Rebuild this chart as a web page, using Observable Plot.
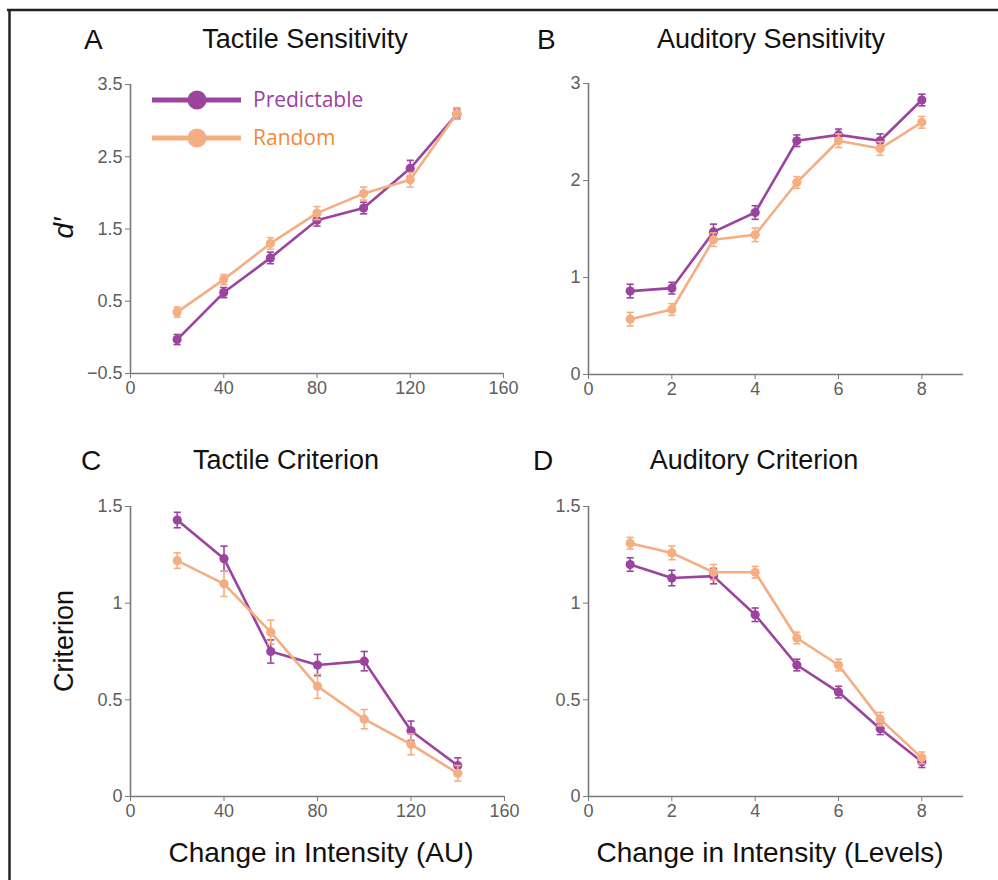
<!DOCTYPE html>
<html><head><meta charset="utf-8">
<script src="https://cdn.jsdelivr.net/npm/d3@7"></script>
<script src="https://cdn.jsdelivr.net/npm/@observablehq/plot@0.6"></script>
<style>
body{margin:0;background:#fff;}
#fig{position:relative;width:998px;height:880px;overflow:hidden;background:#fff;}
#fig > svg{position:absolute;}
</style></head>
<body><div id="fig"></div>
<script>
// ---------- data ----------
const tactileX = [20, 40, 60, 80, 100, 120, 140];
const auditoryX = [1, 2, 3, 4, 5, 6, 7, 8];

const tactileSensPred = [-0.03, 0.62, 1.10, 1.62, 1.79, 2.34, 3.09];
const tactileSensPredErr = [0.07, 0.07, 0.08, 0.08, 0.08, 0.11, 0.07];
const tactileSensRand = [0.35, 0.80, 1.30, 1.72, 1.99, 2.18, 3.10];
const tactileSensRandErr = [0.07, 0.07, 0.08, 0.09, 0.09, 0.10, 0.08];

const auditorySensPred = [0.86, 0.89, 1.47, 1.67, 2.41, 2.47, 2.41, 2.83];
const auditorySensPredErr = [0.07, 0.06, 0.08, 0.07, 0.06, 0.06, 0.07, 0.06];
const auditorySensRand = [0.57, 0.67, 1.39, 1.44, 1.98, 2.41, 2.33, 2.60];
const auditorySensRandErr = [0.07, 0.06, 0.07, 0.07, 0.06, 0.07, 0.07, 0.06];

const tactileCritPred = [1.43, 1.23, 0.75, 0.68, 0.70, 0.34, 0.16];
const tactileCritPredErr = [0.04, 0.065, 0.06, 0.055, 0.05, 0.05, 0.04];
const tactileCritRand = [1.22, 1.10, 0.85, 0.57, 0.40, 0.27, 0.12];
const tactileCritRandErr = [0.04, 0.065, 0.062, 0.062, 0.05, 0.054, 0.04];

const auditoryCritPred = [1.20, 1.13, 1.14, 0.94, 0.68, 0.54, 0.35, 0.18];
const auditoryCritPredErr = [0.035, 0.04, 0.04, 0.035, 0.03, 0.03, 0.03, 0.03];
const auditoryCritRand = [1.31, 1.26, 1.16, 1.16, 0.82, 0.68, 0.40, 0.20];
const auditoryCritRandErr = [0.03, 0.035, 0.04, 0.03, 0.03, 0.03, 0.035, 0.03];

const seriesNames = ["Predictable", "Random"];
const seriesColors = ["#9B449F", "#F5AD82"];
const legendTextColors = ["#9B3FA0", "#EE8A3E"];

const tactileTicks = [0, 40, 80, 120, 160];
const auditoryTicks = [0, 2, 4, 6, 8];
const sensTicksA = [-0.5, 0.5, 1.5, 2.5, 3.5];
const sensTicksB = [0, 1, 2, 3];
const critTicks = [0, 0.5, 1, 1.5];

// ---------- helpers ----------
const fig = document.getElementById("fig");
const FONT = "'Liberation Sans', Arial, sans-serif";
const AXIS = "#7a7a7a";
const TICKCOL = "#5e5e5e";

function rows(xs, pred, predErr, rand, randErr) {
  const out = [];
  xs.forEach((x, i) => out.push({s: "Predictable", x, v: pred[i], lo: pred[i] - predErr[i], hi: pred[i] + predErr[i]}));
  xs.forEach((x, i) => out.push({s: "Random", x, v: rand[i], lo: rand[i] - randErr[i], hi: rand[i] + randErr[i]}));
  return out;
}

const capSymbol = {
  draw(ctx, size) {
    const r = Math.sqrt(size / Math.PI);
    ctx.moveTo(-r, 0);
    ctx.lineTo(r, 0);
  }
};

function panel({left, top, width, height, px0, px1, py0, py1, xDomain, xTicks, yDomain, yTicks, data}) {
  const mL = px0 - left, mR = left + width - px1, mT = py0 - top, mB = top + height - py1;
  const marks = [];
  for (const name of seriesNames) {
    const d = data.filter(r => r.s === name);
    const c = seriesColors[seriesNames.indexOf(name)];
    marks.push(
      Plot.ruleX(d, {x: "x", y1: "lo", y2: "hi", stroke: c, strokeWidth: 1.6}),
      Plot.dot(d, {x: "x", y: "lo", symbol: capSymbol, r: 3.6, stroke: c, strokeWidth: 1.6, fill: "none"}),
      Plot.dot(d, {x: "x", y: "hi", symbol: capSymbol, r: 3.6, stroke: c, strokeWidth: 1.6, fill: "none"}),
      Plot.line(d, {x: "x", y: "v", stroke: c, strokeWidth: 2.6}),
      Plot.dot(d, {x: "x", y: "v", r: 4.6, fill: c, stroke: "none"})
    );
  }
  const svg = Plot.plot({
    width, height, marginLeft: mL, marginRight: mR, marginTop: mT, marginBottom: mB,
    style: {fontSize: "18px", fontFamily: FONT, color: TICKCOL, background: "transparent", overflow: "visible"},
    x: {domain: xDomain},
    y: {domain: yDomain},
    marks: [
      Plot.axisX({ticks: xTicks, tickSize: 5, tickPadding: 3, label: null, fontSize: 18, fill: TICKCOL,
        tickFormat: d => String(d), stroke: AXIS}),
      Plot.axisY({ticks: yTicks, tickSize: 5, tickPadding: 3, label: null, fontSize: 18, fill: TICKCOL,
        tickFormat: d => String(d).replace("-", "\u2212"), stroke: AXIS}),
      Plot.ruleX([xDomain[0]], {stroke: AXIS, strokeWidth: 1.6}),
      Plot.ruleY([yDomain[0]], {stroke: AXIS, strokeWidth: 1.6}),
      ...marks
    ]
  });
  d3.select(svg).selectAll("text").style("font-size", "18px").style("font-family", FONT);
  svg.style.left = left + "px";
  svg.style.top = top + "px";
  fig.appendChild(svg);
}

panel({left: 70, top: 70, width: 450, height: 340, px0: 130, px1: 503, py0: 84, py1: 373,
  xDomain: [0, 160], xTicks: tactileTicks, yDomain: [-0.5, 3.5], yTicks: sensTicksA,
  data: rows(tactileX, tactileSensPred, tactileSensPredErr, tactileSensRand, tactileSensRandErr)});
panel({left: 528, top: 70, width: 460, height: 340, px0: 588, px1: 963, py0: 83, py1: 374,
  xDomain: [0, 9], xTicks: auditoryTicks, yDomain: [0, 3], yTicks: sensTicksB,
  data: rows(auditoryX, auditorySensPred, auditorySensPredErr, auditorySensRand, auditorySensRandErr)});
panel({left: 70, top: 492, width: 450, height: 340, px0: 130, px1: 504, py0: 506, py1: 796,
  xDomain: [0, 160], xTicks: tactileTicks, yDomain: [0, 1.5], yTicks: critTicks,
  data: rows(tactileX, tactileCritPred, tactileCritPredErr, tactileCritRand, tactileCritRandErr)});
panel({left: 528, top: 492, width: 460, height: 340, px0: 588, px1: 963, py0: 506, py1: 796,
  xDomain: [0, 9], xTicks: auditoryTicks, yDomain: [0, 1.5], yTicks: critTicks,
  data: rows(auditoryX, auditoryCritPred, auditoryCritPredErr, auditoryCritRand, auditoryCritRandErr)});

// ---------- overlay: border, titles, labels, legend ----------
const ov = d3.select(fig).append("svg")
  .attr("width", 998).attr("height", 880)
  .style("left", "0px").style("top", "0px")
  .style("font-family", FONT);

ov.append("line").attr("x1", 7).attr("x2", 998).attr("y1", 10).attr("y2", 10).attr("stroke", "#222").attr("stroke-width", 2.5);
ov.append("line").attr("x1", 9.5).attr("x2", 9.5).attr("y1", 9).attr("y2", 880).attr("stroke", "#222").attr("stroke-width", 2.5);

const titles = [
  {t: "A", x: 84, y: 49, a: "start"}, {t: "Tactile Sensitivity", x: 305, y: 48, a: "middle"},
  {t: "B", x: 537, y: 49, a: "start"}, {t: "Auditory Sensitivity", x: 771, y: 48, a: "middle"},
  {t: "C", x: 81, y: 470, a: "start"}, {t: "Tactile Criterion", x: 286, y: 469, a: "middle"},
  {t: "D", x: 533, y: 470, a: "start"}, {t: "Auditory Criterion", x: 754, y: 469, a: "middle"}
];
for (const d of titles) {
  ov.append("text").attr("x", d.x).attr("y", d.y).attr("text-anchor", d.a)
    .attr("font-size", d.t.length === 1 ? 28 : 27).attr("fill", "#111").text(d.t);
}
ov.append("text").attr("x", 321).attr("y", 862).attr("text-anchor", "middle").attr("font-size", 28).attr("fill", "#111").text("Change in Intensity (AU)");
ov.append("text").attr("x", 770).attr("y", 862).attr("text-anchor", "middle").attr("font-size", 28).attr("fill", "#111").text("Change in Intensity (Levels)");
ov.append("text").attr("transform", "translate(73,641) rotate(-90)").attr("text-anchor", "middle").attr("font-size", 27).attr("fill", "#111").text("Criterion");
ov.append("text").attr("transform", "translate(73,228) rotate(-90)").attr("text-anchor", "middle").attr("font-size", 28).attr("font-style", "italic").attr("fill", "#111").text("d\u2032");

// legend
seriesNames.forEach((name, i) => {
  const y = 100 + i * 38;
  const g = ov.append("g");
  g.append("line").attr("x1", 152).attr("x2", 241).attr("y1", y).attr("y2", y).attr("stroke", seriesColors[i]).attr("stroke-width", 5);
  g.append("circle").attr("cx", 197).attr("cy", y).attr("r", 9.5).attr("fill", seriesColors[i]);
  g.append("text").attr("x", 253).attr("y", y + 7).attr("font-size", 21).attr("font-family", "'Open Sans', sans-serif").attr("fill", legendTextColors[i]).text(name);
});
</script>
</body></html>
